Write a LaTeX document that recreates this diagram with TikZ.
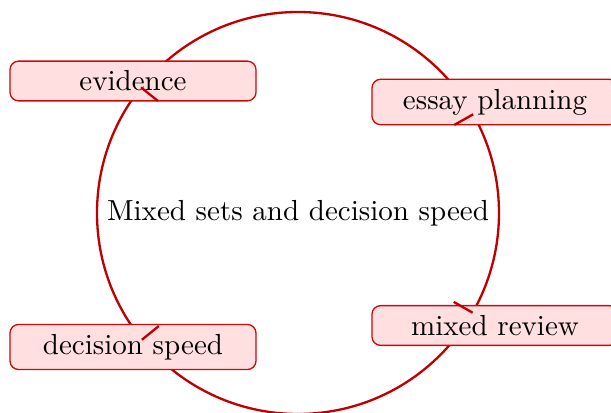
\documentclass[tikz,border=0pt]{standalone}
\usetikzlibrary{calc}
\definecolor{ringred}{RGB}{192,0,0}
\definecolor{boxfill}{RGB}{255,223,223}
\definecolor{boxline}{RGB}{200,10,10}
\begin{document}
\begin{tikzpicture}[x=0.3446pt,y=0.3446pt,
  ring/.style={draw=ringred,line width=0.8pt},
  tag/.style={draw=boxline,fill=boxfill,rounded corners=3pt,minimum width=84.8pt,line width=0.45pt,inner sep=3.33pt},
  tickmark/.style={draw=ringred,line width=0.8pt}]
\useasboundingbox (0,0) rectangle (611,413);
\coordinate (c) at (298,200);
\draw[ring] (c) circle[radius=201];
\node[tag] (ev) at (133,332) {evidence};
\node[tag] (ep) at (495,311) {essay planning};
\node[tag] (ds) at (133,66) {decision speed};
\node[tag] (mr) at (495,87.5) {mixed review};
\node (title) at (c) {Mixed sets and decision speed};
\foreach \n in {ev,ep,ds,mr}{
  \draw[tickmark] ($(c)!69.3pt!(\n.center)$) -- ($(c)!61.8pt!(\n.center)$);
}
\end{tikzpicture}
\end{document}
